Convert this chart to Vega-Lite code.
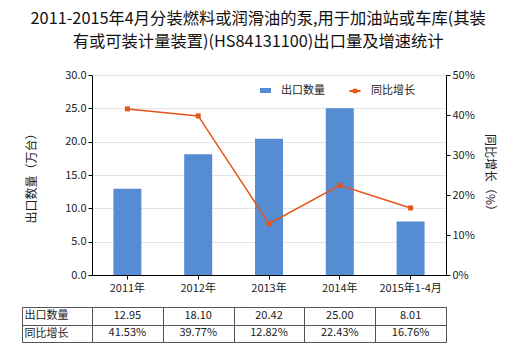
{
  "$schema": "https://vega.github.io/schema/vega-lite/v6.json",
  "padding": {"left": 21, "top": 10, "right": 5, "bottom": 5},
  "config": {
    "font": "Noto Sans CJK SC",
    "axis": {"labelFont": "Noto Sans CJK SC", "titleFont": "Noto Sans CJK SC"},
    "legend": {"labelFont": "Noto Sans CJK SC"}
  },
  "title": {
    "text": ["2011-2015年4月分装燃料或润滑油的泵,用于加油站或车库(其装", "有或可装计量装置)(HS84131100)出口量及增速统计"],
    "fontSize": 16.3,
    "fontWeight": "normal",
    "color": "#111",
    "anchor": "middle",
    "lineHeight": 23,
    "offset": 19
  },
  "datasets": {
    "d": [
      {"year": "2011年", "qty": 12.95, "growth": 41.53},
      {"year": "2012年", "qty": 18.10, "growth": 39.77},
      {"year": "2013年", "qty": 20.42, "growth": 12.82},
      {"year": "2014年", "qty": 25.00, "growth": 22.43},
      {"year": "2015年1-4月", "qty": 8.01, "growth": 16.76}
    ],
    "rows": [{"row": "出口数量"}, {"row": "同比增长"}]
  },
  "concat": [
    {
      "width": 354,
      "height": 200,
      "view": {"stroke": null},
      "data": {"name": "d"},
      "layer": [
        {
          "mark": {"type": "bar", "size": 28},
          "encoding": {
            "x": {
              "field": "year", "type": "nominal", "sort": null,
              "scale": {"paddingInner": 0, "paddingOuter": 0},
              "axis": {"title": null, "labelAngle": 0, "labelFontSize": 11, "labelColor": "#222", "domainColor": "#000", "tickColor": "#000", "tickSize": 4, "labelPadding": 3}
            },
            "y": {
              "field": "qty", "type": "quantitative",
              "scale": {"domain": [0, 30]},
              "axis": {"title": "出口数量（万台）", "values": [0, 5, 10, 15, 20, 25, 30], "format": ".1f", "labelFontSize": 11, "labelColor": "#222", "domainColor": "#000", "tickColor": "#000", "tickSize": 4, "gridColor": "#e4e4e4", "titleFontSize": 12, "titleFontWeight": "normal", "titleColor": "#222", "titlePadding": 26, "labelPadding": 2}
            },
            "color": {
              "datum": "出口数量",
              "scale": {"range": ["#558cd2"]},
              "legend": {"orient": "none", "legendX": 168, "legendY": 10, "title": null, "symbolType": "M-1.1,-0.5H1.1V0.5H-1.1Z", "symbolSize": 100, "labelOffset": 10, "labelFontSize": 11, "labelColor": "#222", "symbolStrokeWidth": 0}
            }
          }
        },
        {
          "mark": {"type": "line", "strokeWidth": 1.5, "point": {"shape": "square", "size": 25, "filled": true, "color": "#e5541b"}},
          "encoding": {
            "x": {"field": "year", "type": "nominal", "sort": null},
            "y": {
              "field": "growth", "type": "quantitative",
              "scale": {"domain": [0, 50]},
              "axis": {"orient": "right", "title": "同比增长（%）", "values": [0, 10, 20, 30, 40, 50], "labelExpr": "datum.value + '%'", "grid": false, "labelFontSize": 11, "labelColor": "#222", "domainColor": "#000", "tickColor": "#000", "tickSize": 4, "titleFontSize": 12, "titleFontWeight": "normal", "titleColor": "#222", "titlePadding": 8, "labelPadding": 2}
            },
            "color": {
              "datum": "同比增长",
              "scale": {"range": ["#e5541b"]},
              "legend": {"orient": "none", "legendX": 257, "legendY": 10, "title": null, "symbolType": "M-1.1,0H1.1M-0.25,-0.25H0.25V0.25H-0.25Z", "symbolSize": 100, "symbolStrokeWidth": 2, "symbolStrokeColor": "#e5541b", "symbolFillColor": "#e5541b", "labelOffset": 10, "labelFontSize": 11, "labelColor": "#222"}
            }
          }
        }
      ],
      "resolve": {"scale": {"y": "independent", "color": "independent"}}
    },
    {
      "width": 354,
      "height": 35,
      "view": {"stroke": "#555", "strokeWidth": 1},
      "layer": [
        {
          "data": {"name": "d"},
          "transform": [
            {"calculate": "format(datum.qty, '.2f')", "as": "出口数量"},
            {"calculate": "format(datum.growth, '.2f') + '%'", "as": "同比增长"},
            {"fold": ["出口数量", "同比增长"], "as": ["row", "txt"]}
          ],
          "mark": {"type": "text", "fontSize": 11, "color": "#222"},
          "encoding": {
            "x": {
              "field": "year", "type": "nominal", "sort": null,
              "scale": {"paddingInner": 0, "paddingOuter": 0},
              "axis": {"title": null, "labels": false, "ticks": false, "domain": false, "grid": true, "tickBand": "extent", "gridColor": "#555", "gridOpacity": 1}
            },
            "y": {
              "field": "row", "type": "nominal",
              "scale": {"domain": ["出口数量", "同比增长"], "paddingInner": 0, "paddingOuter": 0},
              "axis": {"title": null, "orient": "left", "domain": false, "ticks": true, "tickSize": 70, "tickColor": "#555", "tickBand": "extent", "grid": true, "gridColor": "#555", "gridOpacity": 1, "labelAlign": "left", "labelPadding": -2, "labelFontSize": 11, "labelColor": "#222", "labelBaseline": "middle"}
            },
            "text": {"field": "txt", "type": "nominal"}
          }
        },
        {
          "data": {"name": "rows"},
          "mark": {"type": "text", "opacity": 0},
          "encoding": {
            "x": {"datum": "2011年", "type": "nominal"},
            "y": {
              "field": "row", "type": "nominal",
              "scale": {"domain": ["出口数量", "同比增长"], "paddingInner": 0, "paddingOuter": 0},
              "axis": {"title": null, "orient": "left", "offset": 70, "domain": true, "domainColor": "#555", "ticks": false, "labels": false, "grid": false}
            },
            "text": {"field": "row", "type": "nominal"}
          }
        }
      ],
      "resolve": {"scale": {"y": "independent"}}
    }
  ],
  "columns": 1,
  "spacing": 7
}
